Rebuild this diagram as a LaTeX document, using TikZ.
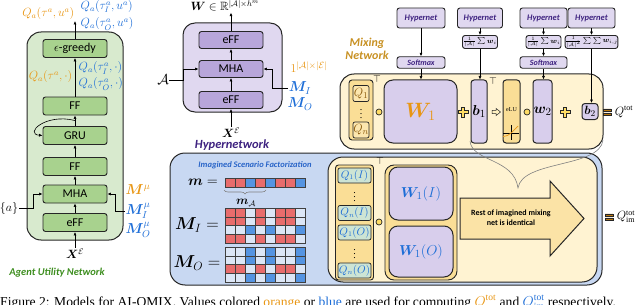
\documentclass[tikz,border=0pt]{standalone}
\usepackage{amsmath,amssymb,bm}
\usepackage{fontspec}
\setmainfont{Liberation Serif}
\newfontfamily\carlito{Carlito}
\usepackage{tikz}
\usetikzlibrary{arrows.meta,calc,positioning,decorations.pathreplacing}
\definecolor{AgentFill}{RGB}{216,234,206}
\definecolor{AgentBlk}{RGB}{168,210,142}
\definecolor{AgentText}{RGB}{62,142,32}
\definecolor{HyperFill}{RGB}{224,216,240}
\definecolor{HyperBlk}{RGB}{184,166,218}
\definecolor{HyperText}{RGB}{62,34,128}
\definecolor{MixFill}{RGB}{255,243,210}
\definecolor{MixText}{RGB}{200,145,35}
\definecolor{QFill}{RGB}{250,222,150}
\definecolor{PlusFill}{RGB}{255,220,100}
\definecolor{ImFill}{RGB}{200,216,242}
\definecolor{ImText}{RGB}{40,100,200}
\definecolor{ValOrange}{RGB}{232,150,20}
\definecolor{ValBlue}{RGB}{30,110,215}
\definecolor{CellR}{RGB}{232,108,108}
\definecolor{CellB}{RGB}{85,148,225}
\definecolor{CellW}{RGB}{220,230,246}
\definecolor{QGreen}{RGB}{205,228,212}
\definecolor{WFill}{RGB}{216,206,236}
\tikzset{
  panel/.style={draw=black!85,line width=1pt},
  link/.style={->,line width=0.6pt},
  blk/.style={draw=black!85,line width=0.9pt,rounded corners=2.5pt,inner sep=0pt,
    font=\carlito\fontsize{12}{12}\selectfont},
  agentblk/.style={blk,fill=AgentBlk,minimum width=64pt,minimum height=18pt},
  hyperblk/.style={blk,fill=HyperBlk,minimum width=64pt,minimum height=17pt},
  hnet/.style={blk,fill=HyperFill,text=HyperText,minimum width=48pt,minimum height=20pt,
    font=\carlito\bfseries\itshape\fontsize{8.5}{9}\selectfont},
  smax/.style={hnet,minimum height=11.5pt,font=\carlito\bfseries\itshape\fontsize{8}{8}\selectfont},
  avgblk/.style={blk,fill=HyperFill,minimum width=35pt,minimum height=13pt,
    font=\fontsize{7}{7}\selectfont},
  mathlbl/.style={inner sep=1pt,font=\fontsize{12}{12}\selectfont},
  vlabel/.style={inner sep=0.5pt,font=\fontsize{12}{12}\selectfont},
  mlbl/.style={inner sep=0.5pt,font=\fontsize{14}{14}\selectfont},
  nettitle/.style={inner sep=0pt,font=\carlito\bfseries\itshape\fontsize{10.5}{11}\selectfont},
  qcol/.style={draw=black!85,line width=0.9pt,fill=QFill,rounded corners=3pt},
  qbox/.style={draw=black!85,line width=0.7pt,fill=QFill!60!MixFill,rounded corners=2pt,
    minimum size=16pt,inner sep=0pt,text=ValOrange!60!black,font=\fontsize{13}{13}\selectfont},
  iqbox/.style={draw=black!85,line width=0.7pt,fill=QGreen,rounded corners=2pt,
    minimum width=33pt,minimum height=15pt,inner sep=0pt,text=ValBlue,font=\fontsize{10.5}{11}\selectfont},
  wbig/.style={draw=black!85,line width=1pt,fill=WFill,rounded corners=9pt,inner sep=0pt},
  vecblk/.style={draw=black!85,line width=1pt,fill=WFill,rounded corners=3pt,inner sep=0pt,
    minimum width=16pt,minimum height=63pt,font=\fontsize{15}{15}\selectfont},
  hprod/.style={circle,draw=black!85,line width=0.7pt,fill=PlusFill,inner sep=0pt,minimum size=6pt},
  cell/.style={draw=black!75,line width=0.5pt},
  fatplus/.pic={\draw[fill=PlusFill,draw=black!85,line width=0.5pt]
    (-1.6,-5) -- (1.6,-5) -- (1.6,-1.6) -- (5,-1.6) -- (5,1.6) -- (1.6,1.6) -- (1.6,5)
    -- (-1.6,5) -- (-1.6,1.6) -- (-5,1.6) -- (-5,-1.6) -- (-1.6,-1.6) -- cycle;},
  fatarrow/.pic={\draw[fill=PlusFill!40,draw=black!85,line width=0.5pt]
    (-4,-1.6) -- (0,-1.6) -- (0,-3.6) -- (4.5,0) -- (0,3.6) -- (0,1.6) -- (-4,1.6) -- cycle;},
  fateq/.pic={\draw[fill=ValOrange!80!black,draw=black!85,line width=0.5pt]
    (-4,-3.2) rectangle (4,-0.8) (-4,0.8) rectangle (4,3.2);}
}
\begin{document}
\begin{tikzpicture}[x=1pt,y=-1pt,>={Latex[length=3.5pt,width=3pt]}]
\useasboundingbox (0,0) rectangle (640,305);
\clip (0,0) rectangle (640,305);

% agent utility network
\draw[panel,fill=AgentFill,rounded corners=14pt] (27,32) rectangle (123,240);
\node[agentblk] (greedy) at (75,48.5) {$\epsilon$-greedy};
\node[agentblk] (ffb) at (75,106) {FF};
\node[agentblk] (gru) at (75,135.5) {GRU};
\node[agentblk] (ffa) at (75,166.5) {FF};
\node[agentblk] (amha) at (75,194) {MHA};
\node[agentblk] (aeff) at (75,222.5) {eFF};
\node[mathlbl] (axe) at (75,254) {$\bm{X}^{\mathcal{E}}$};
\coordinate (aout) at (75,21);
\coordinate (loopfrom) at (75,120.5);
\draw[link] (axe) -- (aeff);
\draw[link] (aeff) -- (amha);
\draw[link] (amha) -- (ffa);
\draw[link] (ffa) -- (gru);
\draw[link] (gru) -- (ffb);
\draw[link] (ffb) -- (greedy);
\draw[link] (greedy) -- (aout);
\draw[link] (loopfrom) .. controls (45,113) and (24,134) .. (gru.west);
\node[vlabel,text=ValOrange,anchor=east] (qact) at (75,14) {$Q_a(\tau^a,u^a)$};
\node[vlabel,text=ValBlue,anchor=west] (qactI) at (80,6.5) {$Q_a(\tau^a_I,u^a)$};
\node[vlabel,text=ValBlue,anchor=west] (qactO) at (80,24) {$Q_a(\tau^a_O,u^a)$};
\node[vlabel,text=ValOrange,anchor=east] (qall) at (73,77) {$Q_a(\tau^a,\cdot)$};
\node[vlabel,text=ValBlue,anchor=west] (qallI) at (78,68) {$Q_a(\tau^a_I,\cdot)$};
\node[vlabel,text=ValBlue,anchor=west] (qallO) at (78,84) {$Q_a(\tau^a_O,\cdot)$};
\node[mathlbl] (aset) at (9,208) {$\{a\}$};
\draw[link] (aset.east) -- ++(14,0) |- (amha.west);
\node[mlbl,text=ValOrange] (mmu) at (138,190) {$\bm{M}^{\mu}$};
\node[mlbl,text=ValBlue] (mmuI) at (138,211) {$\bm{M}^{\mu}_{I}$};
\node[mlbl,text=ValBlue] (mmuO) at (138,230) {$\bm{M}^{\mu}_{O}$};
\draw[link] (mmuI.west) -- ++(-10,0) |- (amha.east);
\node[nettitle,text=AgentText] (agentname) at (57,273) {Agent Utility Network};

% hypernetwork
\draw[panel,fill=HyperFill,rounded corners=12pt] (183,23) rectangle (282,112);
\node[hyperblk] (heffb) at (231,40) {eFF};
\node[hyperblk] (hmha) at (231,69) {MHA};
\node[hyperblk] (heffa) at (231,100) {eFF};
\node[mathlbl] (hxe) at (231,133) {$\bm{X}^{\mathcal{E}}$};
\node[mathlbl] (wout) at (225,6) {$\bm{W}\in\mathbb{R}^{|\mathcal{A}|\times h^m}$};
\draw[link] (hxe) -- (heffa);
\draw[link] (heffa) -- (hmha);
\draw[link] (hmha) -- (heffb);
\draw[link] (heffb) -- (heffb |- wout.south);
\node[mlbl] (aent) at (163,80) {$\mathcal{A}$};
\draw[link] (aent.east) -- ++(14,0) |- (hmha.west);
\node[vlabel,text=ValOrange,font=\fontsize{13}{13}\selectfont] (hones) at (309,67) {$1^{|\mathcal{A}|\times|\mathcal{E}|}$};
\node[mlbl,text=ValBlue] (hmI) at (300,88) {$\bm{M}_I$};
\node[mlbl,text=ValBlue] (hmO) at (300,104) {$\bm{M}_O$};
\draw[link] (hmI.west) -- ++(-16,0) |- (hmha.east);
\node[nettitle,text=HyperText,font=\carlito\bfseries\itshape\fontsize{12.5}{13}\selectfont] (hypername) at (232,145) {Hypernetwork};

% mixing network
\node[nettitle,text=MixText,align=center,font=\carlito\bfseries\itshape\fontsize{12}{13}\selectfont] (mixname) at (367,48.5) {Mixing\\Network};
\draw[panel,fill=MixFill,rounded corners=14pt] (340,74) rectangle (603,149);
\node[qcol,minimum width=24pt,minimum height=60pt] (qcolumn) at (361,110) {};
\node[qbox] (qfirst) at (361,93.5) {$Q_1$};
\node[qbox] (qlast) at (361,130) {$Q_n$};
\node (qdots) at (361,111) {$\vdots$};
\node (qtr) at (377,79) {$\top$};
\node[hprod] (hprodw) at (379,112) {};
\node[wbig,minimum width=73pt,minimum height=63pt,text=ValOrange,font=\fontsize{20}{20}\selectfont] (wone) at (420.5,111.5) {$\bm{W}_1$};
\pic at (463,112) {fatplus};
\node[vecblk] (bone) at (479,111.5) {$\bm{b}_1$};
\node (btr) at (493,81) {$\top$};
\pic at (496,112) {fatarrow};
\node[vecblk,fill=QFill,minimum width=17pt] (elu) at (511.5,111.5) {};
\node[inner sep=0pt,font=\fontsize{6}{6}\selectfont] (elutxt) at (511.5,110) {eLU};
\draw[line width=0.5pt] (503,133) -- (519,133) (511,125) -- (511,140);
\draw[ValOrange,line width=0.7pt] (503,136.5) .. controls (507,136) and (509,135) .. (511,133) -- (518,126);
\node[hprod] (hprodb) at (527,112) {};
\node[vecblk,minimum width=19pt] (wtwo) at (542.5,111.5) {$\bm{w}_2$};
\pic at (565,112) {fatplus};
\node[vecblk,minimum width=16pt,minimum height=16pt,font=\fontsize{13}{13}\selectfont] (btwo) at (590,111.5) {$\bm{b}_2$};
\pic at (607,112) {fateq};
\node[mathlbl] (qtot) at (624,112) {$Q^{\mathrm{tot}}$};

% hypernets on top
\node[hnet] (hnw) at (421,18) {Hypernet};
\node[smax] (smw) at (421,62.5) {Softmax};
\draw[link] (hnw) -- (smw);
\draw[link] (smw) -- (smw |- wone.north);
\node[hnet,minimum width=45pt] (hnb) at (480,18) {Hypernet};
\node[avgblk] (avgb) at (480,42) {$\frac{1}{|\mathcal{A}|}\sum\bm{w}_i$};
\draw[link] (hnb) -- (avgb);
\draw[link] (avgb) -- (avgb |- bone.north);
\node[hnet,minimum width=47pt] (hnv) at (543.5,18) {Hypernet};
\node[avgblk] (avgv) at (543.5,42) {$\frac{1}{|\mathcal{A}|}\sum\bm{w}_i$};
\node[smax,minimum width=47pt] (smv) at (543.5,62.5) {Softmax};
\draw[link] (hnv) -- (avgv);
\draw[link] (avgv) -- (smv);
\draw[link] (smv) -- (smv |- wtwo.north);
\node[hnet,minimum width=47pt] (hnc) at (591.5,18) {Hypernet};
\node[avgblk,minimum width=43pt] (avgc) at (591.5,42) {$\frac{1}{|\mathcal{A}|^2}\sum\sum\bm{w}_{i,j}$};
\draw[link] (hnc) -- (avgc);
\draw[link] (avgc) -- (avgc |- btwo.north);

% imagined scenario factorization
\draw[panel,fill=ImFill,rounded corners=15pt] (170,153) rectangle (602,285);
\node[nettitle,text=ImText,font=\carlito\bfseries\itshape\fontsize{8.5}{9}\selectfont] (imname) at (255,165) {Imagined Scenario Factorization};
\node[inner sep=0pt,font=\fontsize{15}{15}\selectfont] (mlab) at (203,182) {$\bm{m}=$};
\foreach \c [count=\i] in {R,R,B,R,B,R,R,B}
  \draw[cell,fill=Cell\c] (215+10*\i,178) rectangle ++(10,9);
\draw[gray,line width=0.6pt,decorate,decoration={brace,mirror,amplitude=4pt}] (224,190) -- (266,190);
\node[mathlbl] (mA) at (246,203) {$\bm{m}_{\mathcal{A}}$};
\node[inner sep=0pt,font=\fontsize{17}{17}\selectfont] (milab) at (197,225) {$\bm{M}_I=$};
\node[inner sep=0pt,font=\fontsize{17}{17}\selectfont] (molab) at (197,263) {$\bm{M}_O=$};
\foreach \row [count=\r] in {{R,R,W,R,W,R,R,W},{R,R,W,R,W,R,R,W},{W,W,B,W,B,W,W,B},{R,R,W,R,W,R,R,W}}
  \foreach \c [count=\i] in \row
    \draw[cell,fill=Cell\c] (215+10*\i,199.25+8.75*\r) rectangle ++(10,8.75);
\foreach \row [count=\r] in {{W,W,B,W,B,W,W,B},{W,W,B,W,B,W,W,B},{R,R,W,R,W,R,R,W},{W,W,B,W,B,W,W,B}}
  \foreach \c [count=\i] in \row
    \draw[cell,fill=Cell\c] (215+10*\i,238.25+8.75*\r) rectangle ++(10,8.75);
\draw[panel,fill=MixFill,rounded corners=15pt] (328,157) rectangle (597,282);
\node[qcol,minimum width=38pt,minimum height=115pt] (iqcolumn) at (354.5,222.5) {};
\node[iqbox] (iqIa) at (354.5,175.5) {$Q_1(I)$};
\node (iqIdots) at (354.5,194) {$\vdots$};
\node[iqbox] (iqIn) at (354.5,213) {$Q_n(I)$};
\node[iqbox] (iqOa) at (354.5,232.5) {$Q_1(O)$};
\node (iqOdots) at (354.5,251) {$\vdots$};
\node[iqbox] (iqOn) at (354.5,270.5) {$Q_n(O)$};
\node (iqtr) at (380,161) {$\top$};
\node[hprod] (ihprod) at (379,222) {};
\node[qcol,rounded corners=9pt,minimum width=72pt,minimum height=115pt] (iwpair) at (421,222.5) {};
\node[wbig,minimum width=64pt,minimum height=53pt,text=ValBlue,font=\fontsize{15}{15}\selectfont] (wI) at (421,193.5) {$\bm{W}_1(I)$};
\node[wbig,minimum width=64pt,minimum height=51pt,text=ValBlue,font=\fontsize{15}{15}\selectfont] (wO) at (421,251.5) {$\bm{W}_1(O)$};
\draw[panel,fill=QFill!85!white] (460,198) -- (550,198) -- (550,181) -- (584,218.5) -- (550,256) -- (550,239) -- (460,239) -- cycle;
\node[inner sep=0pt,align=center,font=\carlito\bfseries\fontsize{8}{10}\selectfont] (rest) at (511,218) {Rest of imagined mixing\\net is identical};
\pic at (609,217) {fateq};
\node[mathlbl] (qim) at (626,217) {$Q^{\mathrm{tot}}_{\mathrm{im}}$};
\draw[gray,line width=0.6pt] (470,141) .. controls (472,162) and (514,158) .. (518,188)
  .. controls (522,160) and (600,168) .. (603,140);

% caption
\node[anchor=base west,inner sep=0pt,font=\fontsize{13.6}{14}\selectfont] (caption) at (0,306)
  {Figure 2: Models for AI-QMIX. Values colored \textcolor{ValOrange}{orange} or \textcolor{ValBlue}{blue} are used for computing \textcolor{ValOrange}{$Q^{\mathrm{tot}}$} and \textcolor{ValBlue}{$Q^{\mathrm{tot}}_{\mathrm{im}}$} respectively.};
\end{tikzpicture}
\end{document}
